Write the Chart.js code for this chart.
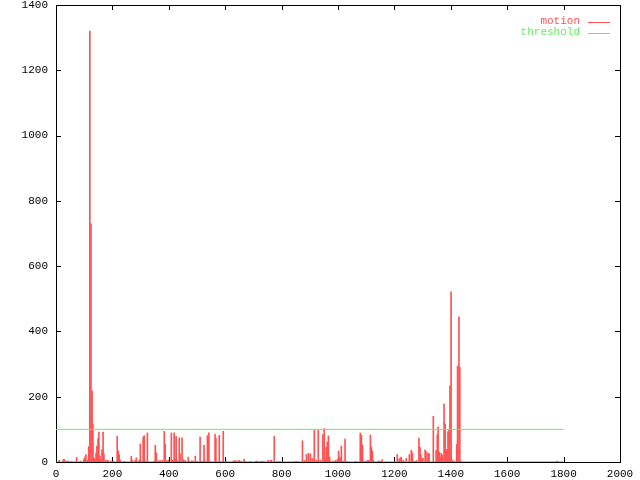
<!DOCTYPE html>
<html>
<head>
<meta charset="utf-8">
<script src="https://cdn.jsdelivr.net/npm/chart.js@4/dist/chart.umd.min.js"></script>
<style>
html,body{margin:0;padding:0;background:#fff;}
canvas{display:block;}
</style>
</head>
<body>
<canvas id="c" width="640" height="480"></canvas>
<script>
// ---- data ----
const motionX = [12,26,30,38,44,56,73,87,99,103,106,112,116,120,124,128,131,134,138,142,145,149,152,156,160,163,167,170,177,184,194,203,217,221,224,228,242,267,270,281,285,295,299,302,309,313,316,324,348,352,356,363,370,377,384,387,392,398,409,412,416,419,423,426,430,437,440,447,451,458,469,472,481,486,494,501,
511,518,525,528,537,542,548,564,567,579,582,593,604,628,635,642,649,656,667,670,688,709,713,725,732,738,752,761,764,774,782,794,850,856,874,881,888,895,902,909,916,923,930,937,946,951,955,958,962,966,970,973,983,991,998,1002,1005,1009,1012,1018,1025,1032,1063,1079,1083,1087,1091,1099,1106,1109,1115,1118,1122,1125,1143,1150,1157,1210,1217,1220,1224,1231,1242,1253,1260,1264,1271,1278,
1287,1291,1294,1298,1301,1309,1312,1319,1323,1338,1348,1352,1355,1359,1362,1366,1370,1376,1380,1383,1387,1390,1394,1397,1401,1405,1412,1421,1424,1429,1432,1436,1777];
const motionY = [5,8,8,3,3,2,14,3,9,16,23,5,47,1320,730,218,116,13,9,27,49,72,92,19,5,38,92,24,5,5,3,3,79,34,23,5,2,18,5,5,13,5,55,3,76,81,3,89,3,51,28,4,4,5,94,55,4,5,89,5,3,89,8,79,5,74,25,74,7,5,15,3,4,3,18,2,
76,2,51,4,81,89,2,85,73,82,2,94,3,3,5,3,5,3,8,3,2,2,3,2,2,2,5,5,5,79,2,2,2,2,65,5,23,27,25,11,97,5,97,5,84,102,5,46,61,80,15,3,3,5,8,34,15,12,49,3,70,2,2,89,82,52,3,3,5,5,83,46,34,5,3,3,7,23,8,12,15,5,11,23,36,28,2,5,
73,46,23,5,12,37,32,27,25,140,35,83,108,30,15,27,21,178,116,37,39,93,98,233,521,5,3,54,294,445,290,3,3];
const motionRangeX = [0, 1800];
const motionRangeY = [0, 0];
const thresholdX = [0, 1800];
const thresholdY = [100, 100];
const xTickValues = [0,200,400,600,800,1000,1200,1400,1600,1800,2000];
const yTickValues = [0,200,400,600,800,1000,1200,1400];
const seriesLabels = ['motion', 'threshold'];

const RED = '#ff5252';
const GREEN = '#62f062';
const FONT = {family: '"Liberation Mono", "DejaVu Sans Mono", monospace', size: 11};

const pts = (xs, ys) => xs.map((x, i) => ({x: x, y: ys[i]}));

const framePlugin = {
  id: 'frame',
  beforeDatasetsDraw(chart) {
    const {ctx, chartArea: a, scales} = chart;
    ctx.save();
    ctx.strokeStyle = '#000';
    ctx.lineWidth = 1;
    ctx.strokeRect(Math.round(a.left) + 0.5, Math.round(a.top) + 0.5,
                   Math.round(a.right - a.left), Math.round(a.bottom - a.top));
    const L = 5;
    ctx.beginPath();
    xTickValues.forEach(v => {
      const px = Math.round(scales.x.getPixelForValue(v)) + 0.5;
      ctx.moveTo(px, a.bottom); ctx.lineTo(px, a.bottom - L);
      ctx.moveTo(px, a.top); ctx.lineTo(px, a.top + L);
    });
    yTickValues.forEach(v => {
      const py = Math.round(scales.y.getPixelForValue(v)) + 0.5;
      ctx.moveTo(a.left, py); ctx.lineTo(a.left + L, py);
      ctx.moveTo(a.right, py); ctx.lineTo(a.right - L, py);
    });
    ctx.stroke();
    ctx.restore();
  },
  afterDraw(chart) {
    const {ctx, chartArea: a} = chart;
    ctx.save();
    ctx.font = FONT.size + 'px ' + FONT.family;
    ctx.textAlign = 'right';
    ctx.textBaseline = 'middle';
    const colors = [RED, GREEN];
    seriesLabels.forEach((lab, i) => {
      const y = a.top + 16.5 + i * 11;
      ctx.fillStyle = colors[i];
      ctx.fillText(lab, a.right - 40, y);
      ctx.strokeStyle = colors[i];
      ctx.lineWidth = 1;
      ctx.beginPath();
      ctx.moveTo(a.right - 32, Math.round(y) + 0.5);
      ctx.lineTo(a.right - 10, Math.round(y) + 0.5);
      ctx.stroke();
    });
    ctx.restore();
  }
};

new Chart(document.getElementById('c'), {
  type: 'bar',
  data: {
    datasets: [
      {type: 'line', label: seriesLabels[1], data: pts(thresholdX, thresholdY),
       borderColor: GREEN, borderWidth: 1, pointRadius: 0, fill: false, tension: 0},
      {type: 'bar', label: seriesLabels[0], data: pts(motionX, motionY),
       backgroundColor: RED, borderWidth: 0, barThickness: 1},
      {type: 'line', label: '', data: pts(motionRangeX, motionRangeY),
       borderColor: RED, borderWidth: 1, pointRadius: 0, fill: false}
    ]
  },
  options: {
    responsive: false,
    animation: false,
    devicePixelRatio: 1,
    layout: {padding: {top: 5, right: 20, left: 0, bottom: 0}},
    plugins: {legend: {display: false}, tooltip: {enabled: false}},
    scales: {
      x: {
        type: 'linear', min: 0, max: 2000, offset: false,
        afterFit: s => { s.height = 18; s.paddingLeft = 0; s.paddingRight = 0; },
        afterBuildTicks: s => { s.ticks = xTickValues.map(v => ({value: v})); },
        grid: {display: false, drawTicks: false},
        border: {display: false},
        ticks: {color: '#000', font: FONT, padding: 5, maxRotation: 0, autoSkip: false,
                callback: v => String(v)}
      },
      y: {
        type: 'linear', min: 0, max: 1400,
        afterFit: s => { s.width = 56; s.paddingTop = 0; s.paddingBottom = 0; },
        afterBuildTicks: s => { s.ticks = yTickValues.map(v => ({value: v})); },
        grid: {display: false, drawTicks: false},
        border: {display: false},
        ticks: {color: '#000', font: FONT, padding: 8, autoSkip: false,
                callback: v => String(v)}
      }
    }
  },
  plugins: [framePlugin]
});
</script>
</body>
</html>
